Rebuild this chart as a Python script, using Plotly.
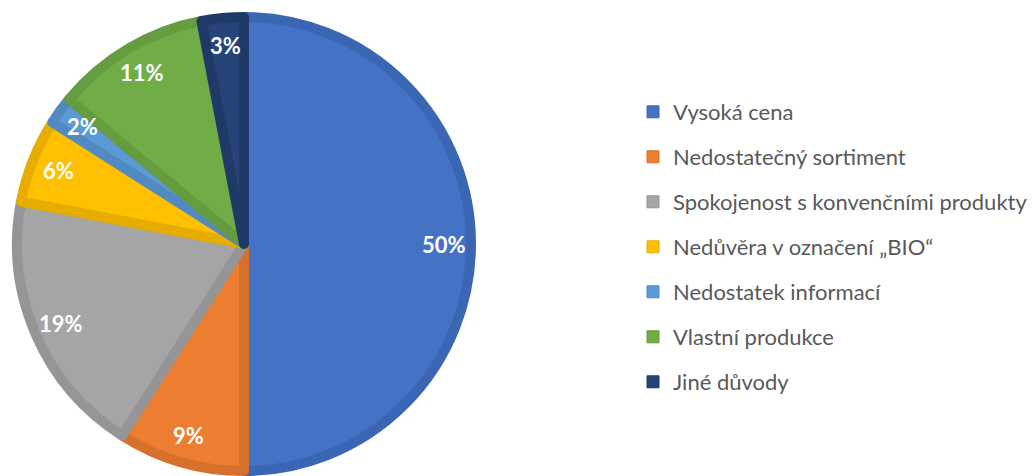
import math
import plotly.graph_objects as go

categories = ["Vysoká cena", "Nedostatečný sortiment", "Spokojenost s konvenčními produkty",
              "Nedůvěra v označení „BIO“", "Nedostatek informací", "Vlastní produkce", "Jiné důvody"]
values = [50, 9, 19, 6, 2, 11, 3]
fill_colors = ["#4472C4", "#ED7D31", "#A5A5A5", "#FFC000", "#5B9BD5", "#70AD47", "#264478"]
edge_colors = ["#3B66B3", "#D6702B", "#959595", "#E6AD00", "#508AC0", "#649C3F", "#1F3A66"]

W, H = 1035, 476
OFF = 8                         # page body margin offset
CX, CY, R = 244 - OFF, 244 - OFF, 232
LINE_W = 10
RF = R - LINE_W / 2

fig = go.Figure()
fig.add_trace(go.Pie(
    labels=categories, values=values, sort=False, direction="clockwise", rotation=0,
    marker=dict(colors=fill_colors, line=dict(color=edge_colors, width=LINE_W)),
    textinfo="none", showlegend=False, hoverinfo="label+percent",
    domain=dict(x=[(CX - RF) / W, (CX + RF) / W], y=[(H - CY - RF) / H, (H - CY + RF) / H]),
))

for i, (cat, col) in enumerate(zip(categories, fill_colors)):
    fig.add_trace(go.Scatter(
        x=[None], y=[None], mode="markers", name=cat, legendgroup=f"g{i}",
        marker=dict(symbol="square", size=12, color=col, line=dict(color=edge_colors[i], width=1)),
        showlegend=True,
    ))

total = sum(values)
cum = 0
annotations = []
for v in values:
    mid = (cum + v / 2) / total * 2 * math.pi
    cum += v
    rr = 0.86 * R
    px = CX + rr * math.sin(mid)
    py = CY - rr * math.cos(mid)
    annotations.append(dict(
        x=px / W, y=1 - py / H, xref="paper", yref="paper", showarrow=False,
        text=f"{round(v / total * 100)}%",
        font=dict(family="Lato", size=22, color="white", weight="bold"),
        xanchor="center", yanchor="middle",
    ))

fig.update_layout(
    width=W, height=H, margin=dict(l=0, r=0, t=0, b=0),
    paper_bgcolor="white", plot_bgcolor="white",
    xaxis=dict(visible=False), yaxis=dict(visible=False),
    annotations=annotations,
    legend=dict(
        x=(673 - 40 - OFF) / W, y=1 - 83 / H, xanchor="left", yanchor="top",
        font=dict(family="Lato", size=22, color="#595959"),
        tracegroupgap=13.4, bgcolor="rgba(0,0,0,0)",
    ),
)

fig.write_html("out.html")
